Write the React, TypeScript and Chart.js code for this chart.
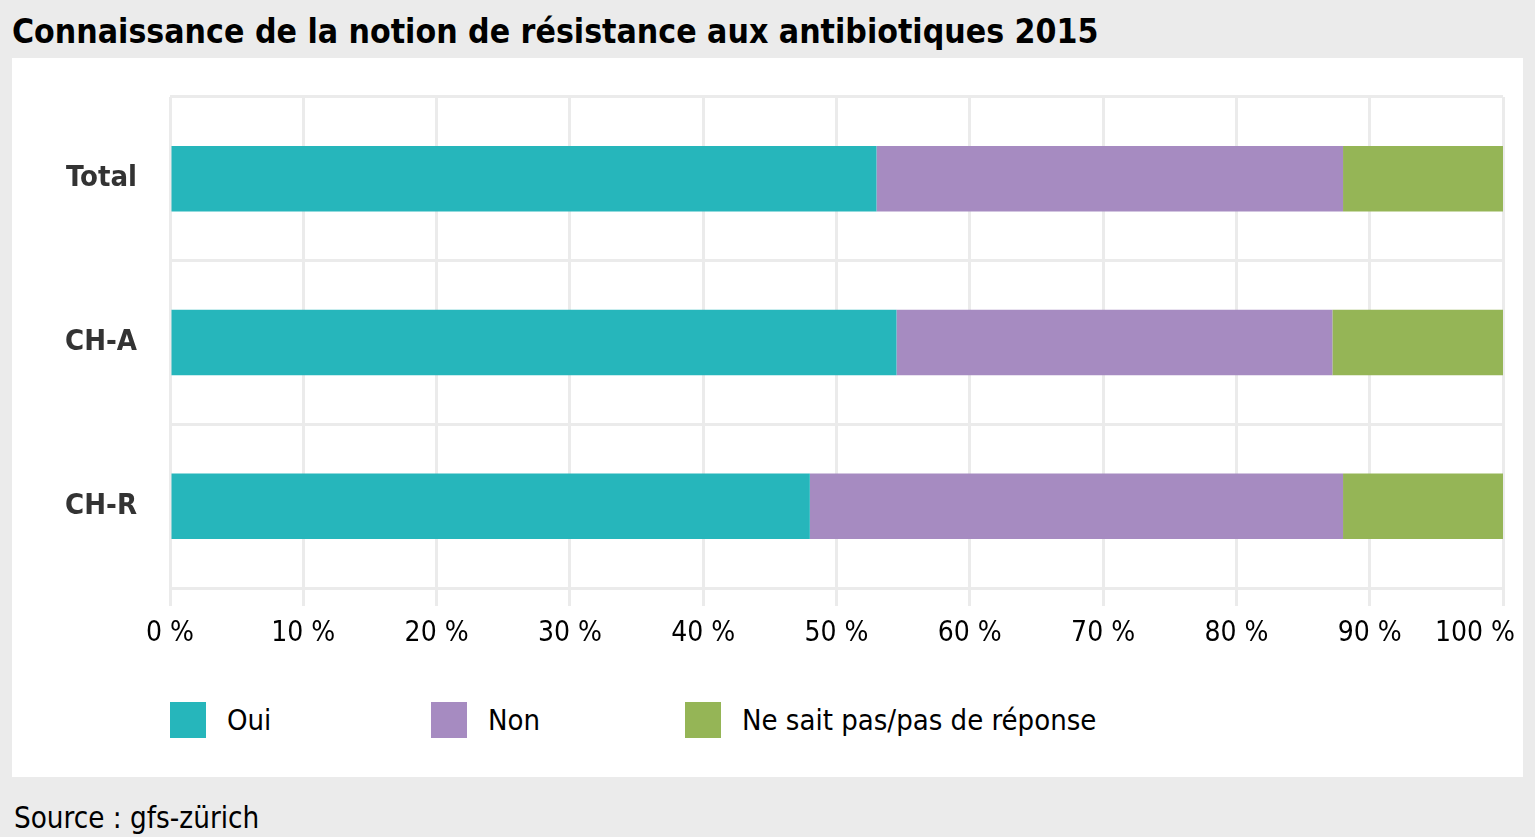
import React, { useEffect, useRef } from "react";
import { Chart, registerables } from "chart.js";

Chart.register(...registerables);

// ---- data ----
const categories = ["Total", "CH-A", "CH-R"];
const seriesNames = ["Oui", "Non", "Ne sait pas/pas de réponse"];
const ouiValues = [53, 54.5, 48];
const nonValues = [35, 32.7, 40];
const nspValues = [12, 12.8, 12];
const xTickValues = [0, 10, 20, 30, 40, 50, 60, 70, 80, 90, 100];
const formatTick = (v: number) => `${v} %`;
const titleText = "Connaissance de la notion de résistance aux antibiotiques 2015";
const sourceText = "Source : gfs-zürich";

const seriesColors = ["#26b6bb", "#a68bc1", "#95b556"];
const FONT = '"Liberation Sans Narrow", "DejaVu Sans Condensed", "Roboto Condensed", Roboto, sans-serif';

const xLabelPlugin = {
  id: "xLabels",
  afterDraw(chart: any) {
    const ctx = chart.ctx;
    const xs = chart.scales.x;
    ctx.save();
    ctx.font = `28px ${FONT}`;
    ctx.fillStyle = "#000";
    ctx.textAlign = "center";
    ctx.textBaseline = "middle";
    const y = chart.chartArea.bottom + 46;
    xTickValues.forEach((v) => {
      const label = formatTick(v);
      const w = ctx.measureText(label).width;
      let x = xs.getPixelForValue(v);
      const maxRight = chart.width - 8;
      if (x + w / 2 > maxRight) x = maxRight - w / 2;
      ctx.fillText(label, x, y);
    });
    ctx.restore();
  },
};

export default function App() {
  const ref = useRef<HTMLCanvasElement | null>(null);

  useEffect(() => {
    if (!ref.current) return;
    const values = [ouiValues, nonValues, nspValues];
    const chart = new Chart(ref.current, {
      type: "bar",
      data: {
        labels: categories,
        datasets: seriesNames.map((name, i) => ({
          label: name,
          data: values[i],
          backgroundColor: seriesColors[i],
          borderWidth: 0,
          barPercentage: 0.4,
          categoryPercentage: 1.0,
        })),
      },
      options: {
        indexAxis: "y",
        responsive: false,
        animation: false,
        devicePixelRatio: 1,
        layout: { padding: { top: 39, left: 0, right: 20, bottom: 10 } },
        plugins: {
          legend: { display: false },
          tooltip: { enabled: false },
          title: { display: false },
        },
        scales: {
          x: {
            type: "linear",
            stacked: true,
            min: 0,
            max: 100,
            ticks: { stepSize: 10, display: false },
            grid: {
              color: "#ebebeb",
              lineWidth: 3,
              tickLength: 18,
              tickColor: "#ebebeb",
              tickWidth: 3,
            },
            border: { display: false },
            afterFit: (s: any) => {
              s.height = 60;
              s.paddingLeft = 0;
              s.paddingRight = 0;
            },
          },
          y: {
            type: "category",
            stacked: true,
            offset: true,
            ticks: {
              padding: 33,
              color: "#333333",
              font: { family: FONT, size: 29, weight: "bold" },
            },
            grid: {
              offset: true,
              color: "#ebebeb",
              lineWidth: 3,
              drawTicks: false,
            },
            border: { display: false },
            afterFit: (s: any) => {
              s.width = 158;
              s.paddingTop = 0;
              s.paddingBottom = 0;
            },
          },
        },
      },
      plugins: [xLabelPlugin],
    });
    return () => chart.destroy();
  }, []);

  const legendWidths = [261, 254, 500];

  return (
    <div
      style={{
        position: "fixed",
        left: 0,
        top: 0,
        width: 1535,
        height: 837,
        background: "#ebebeb",
        overflow: "hidden",
        fontFamily: FONT,
      }}
    >
      <div
        style={{
          position: "absolute",
          left: 12,
          top: 12,
          lineHeight: "40px",
          fontSize: 33.5,
          fontWeight: "bold",
          color: "#000",
          whiteSpace: "nowrap",
        }}
      >
        {titleText}
      </div>
      <div
        style={{
          position: "absolute",
          left: 12,
          top: 58,
          width: 1511,
          height: 719,
          background: "#fff",
        }}
      >
        <canvas ref={ref} width={1511} height={600} style={{ display: "block", width: 1511, height: 600 }} />
        <div
          style={{
            position: "absolute",
            left: 158,
            top: 644,
            display: "flex",
            alignItems: "center",
          }}
        >
          {seriesNames.map((name, i) => (
            <div key={name} style={{ width: legendWidths[i], display: "flex", alignItems: "center" }}>
              <div style={{ width: 36, height: 36, background: seriesColors[i], marginRight: 21, flex: "none" }} />
              <span style={{ fontSize: 29, color: "#000", whiteSpace: "nowrap" }}>{name}</span>
            </div>
          ))}
        </div>
      </div>
      <div
        style={{
          position: "absolute",
          left: 14,
          top: 798,
          lineHeight: "40px",
          fontSize: 29.3,
          color: "#000",
          whiteSpace: "nowrap",
        }}
      >
        {sourceText}
      </div>
    </div>
  );
}
